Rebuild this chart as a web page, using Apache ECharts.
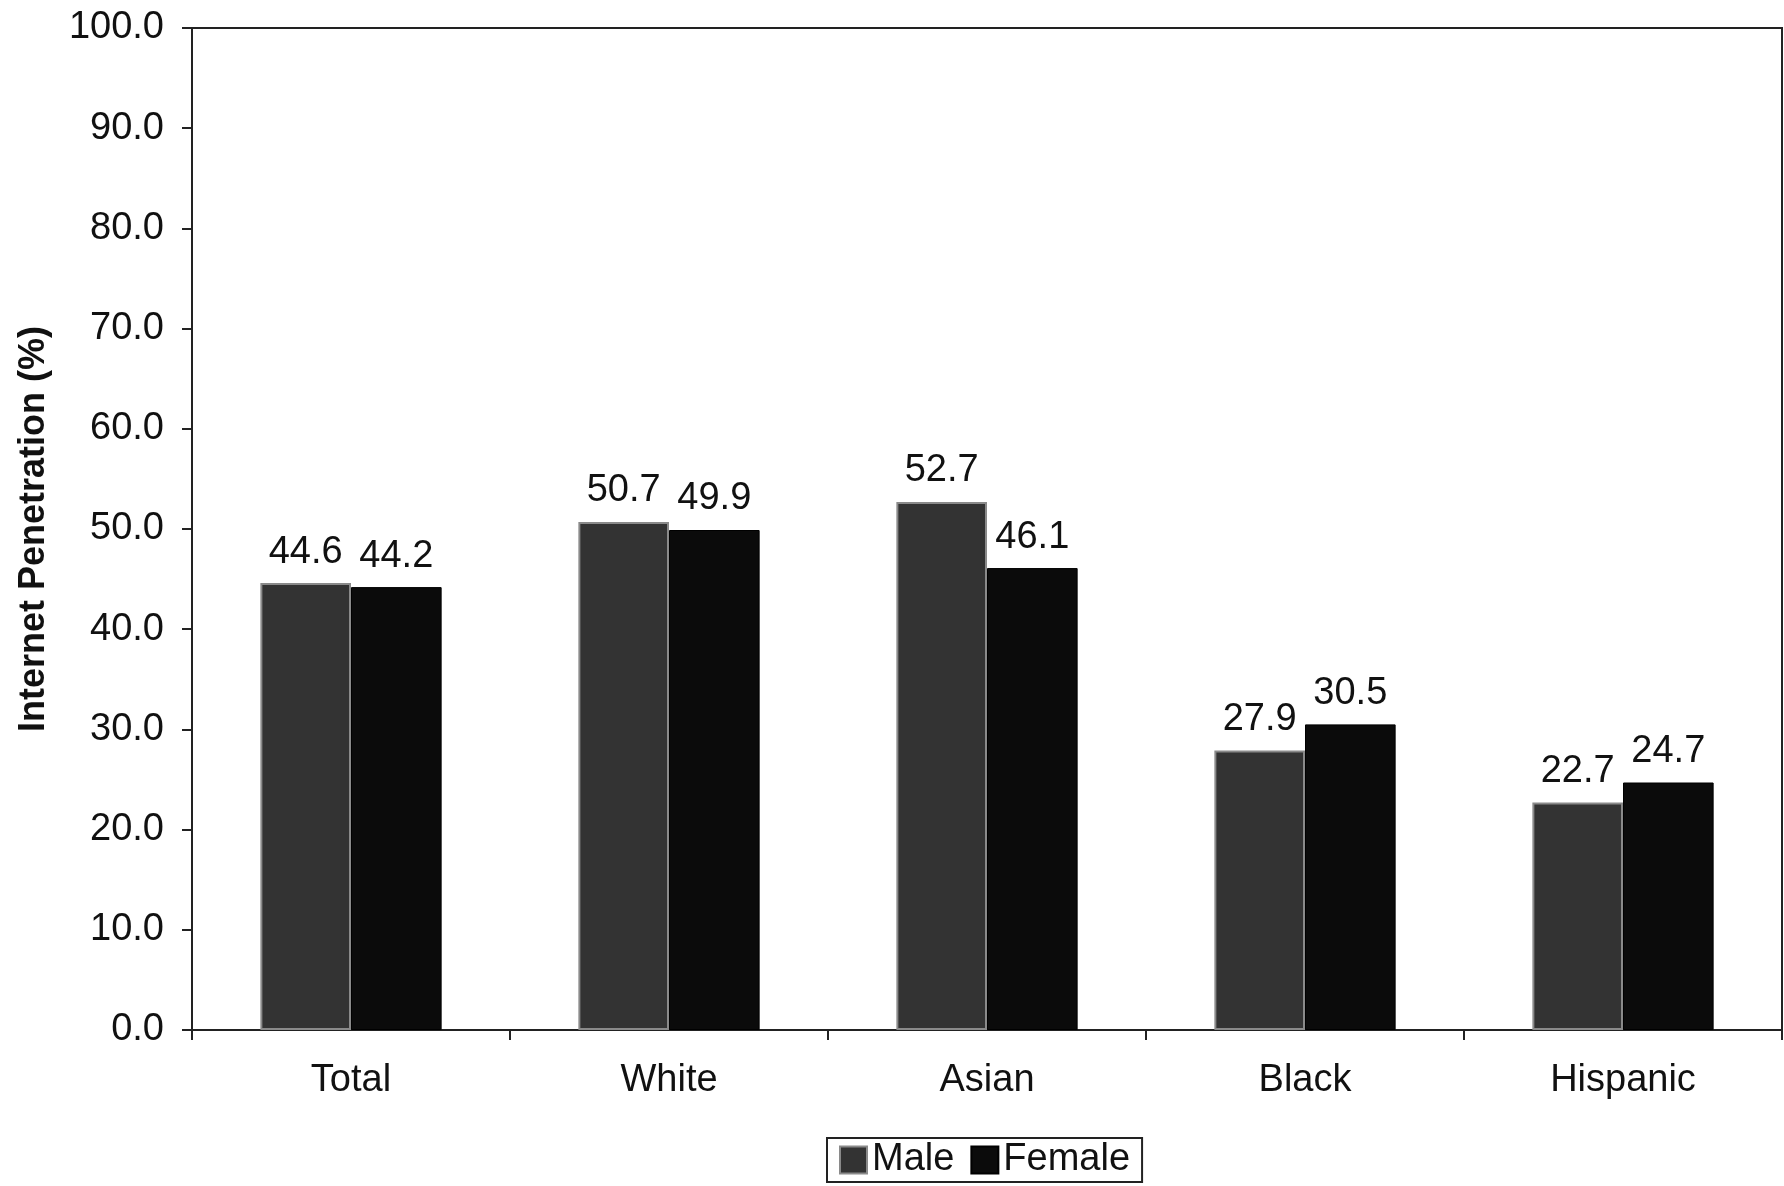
<!DOCTYPE html>
<html>
<head>
<meta charset="utf-8">
<script src="https://cdn.jsdelivr.net/npm/echarts@6/dist/echarts.min.js"></script>
<style>
  html, body { margin: 0; padding: 0; background: #fff; }
  #chart { width: 1784px; height: 1186px; }
</style>
</head>
<body>
<div id="chart"></div>
<script>
// Internet penetration by group and gender (%)
const categories = ['Total', 'White', 'Asian', 'Black', 'Hispanic'];
const maleValues = [44.6, 50.7, 52.7, 27.9, 22.7];
const femaleValues = [44.2, 49.9, 46.1, 30.5, 24.7];
const seriesNames = ['Male', 'Female'];

const FONT = '"Liberation Sans", Arial, Helvetica, sans-serif';
const chart = echarts.init(document.getElementById('chart'));

const valueLabel = {
  show: true,
  position: 'top',
  distance: 12,
  color: '#111',
  fontFamily: FONT,
  fontSize: 38,
  formatter: p => p.value.toFixed(1)
};

chart.setOption({
  backgroundColor: '#ffffff',
  animation: false,
  textStyle: { fontFamily: FONT },
  grid: {
    left: 192, right: 2, top: 28, bottom: 156,
    containLabel: false,
    outerBoundsMode: 'none',
    show: true,
    borderColor: '#222',
    borderWidth: 2,
    backgroundColor: 'transparent'
  },
  legend: {
    data: seriesNames,
    icon: 'rect',
    top: 1138,
    left: 827,
    itemWidth: 27,
    itemHeight: 27,
    itemGap: 16,
    padding: [3, 12, 3, 12],
    borderColor: '#222',
    borderWidth: 2,
    textStyle: { fontFamily: FONT, fontSize: 38, color: '#111' }
  },
  xAxis: {
    type: 'category',
    data: categories,
    axisLine: { show: true, lineStyle: { color: '#222', width: 2 } },
    axisTick: { show: true, length: 10, lineStyle: { color: '#222', width: 2 } },
    axisLabel: { fontFamily: FONT, fontSize: 38, color: '#111', margin: 32 },
    splitLine: { show: false }
  },
  yAxis: {
    type: 'value',
    min: 0,
    max: 100,
    interval: 10,
    name: 'Internet Penetration (%)',
    nameLocation: 'middle',
    nameGap: 140,
    nameRotate: 90,
    nameTextStyle: { fontFamily: FONT, fontSize: 36, fontWeight: 'bold', color: '#111' },
    axisLine: { show: true, lineStyle: { color: '#222', width: 2 } },
    axisTick: { show: true, length: 10, lineStyle: { color: '#222', width: 2 } },
    axisLabel: { fontFamily: FONT, fontSize: 38, color: '#111', margin: 28, formatter: v => v.toFixed(1) },
    splitLine: { show: false }
  },
  series: [
    {
      name: seriesNames[0],
      type: 'bar',
      data: maleValues,
      barGap: '0%',
      barCategoryGap: '43%',
      itemStyle: { color: '#333333', borderColor: '#8a8a8a', borderWidth: 2 },
      label: valueLabel
    },
    {
      name: seriesNames[1],
      type: 'bar',
      data: femaleValues,
      itemStyle: { color: '#0b0b0b', borderColor: '#000', borderWidth: 1 },
      label: valueLabel
    }
  ]
});
</script>
</body>
</html>
